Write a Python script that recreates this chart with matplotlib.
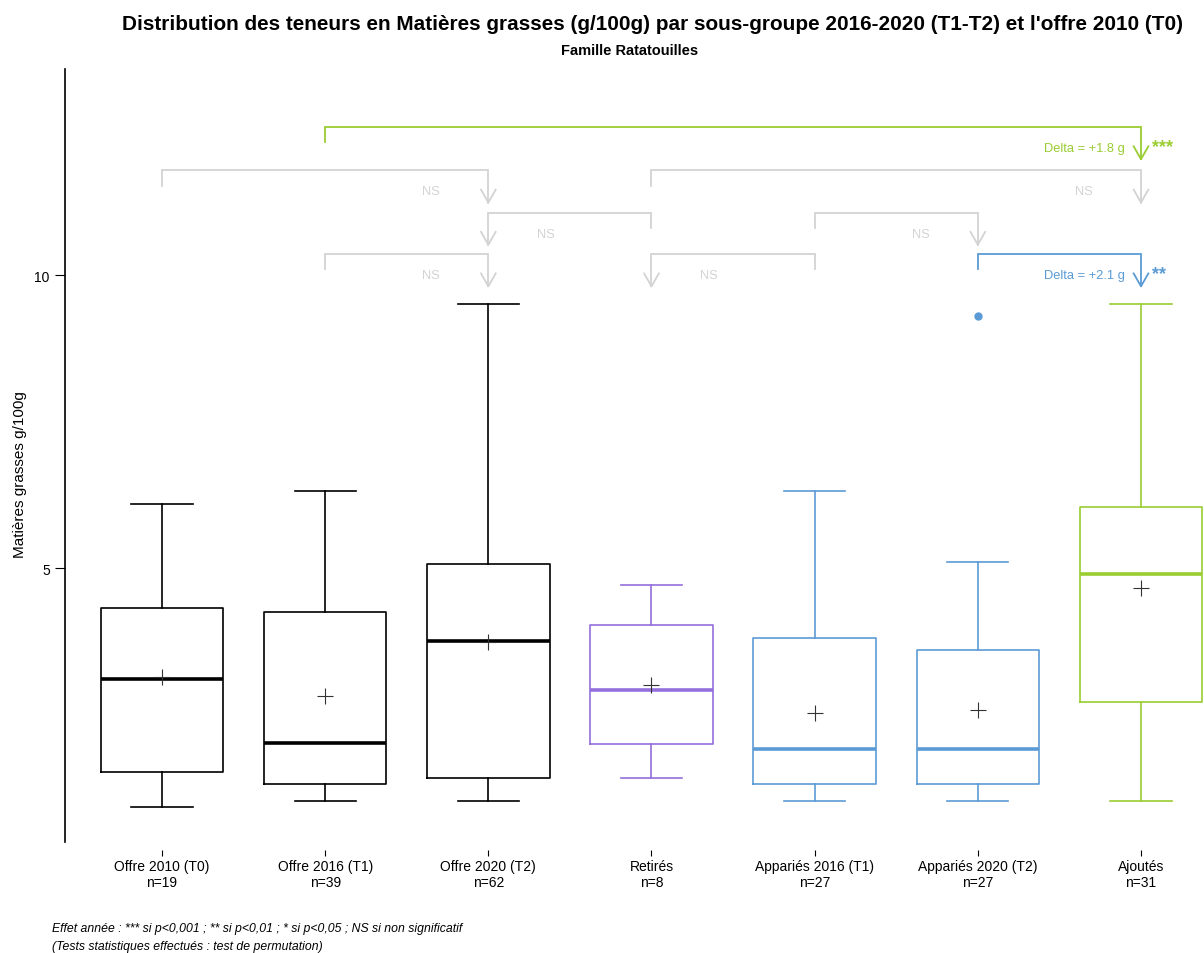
import matplotlib
matplotlib.use("Agg")
import matplotlib.pyplot as plt

# ---- data ----
groups = ["Offre 2010 (T0)", "Offre 2016 (T1)", "Offre 2020 (T2)", "Retirés",
          "Appariés 2016 (T1)", "Appariés 2020 (T2)", "Ajoutés"]
counts = [19, 39, 62, 8, 27, 27, 31]
whis_lo = [0.92, 1.02, 1.02, 1.42, 1.02, 1.02, 1.02]
q1 = [1.52, 1.31, 1.42, 2.00, 1.31, 1.31, 2.71]
medians = [3.11, 2.01, 3.75, 2.92, 1.91, 1.91, 4.90]
means = [3.14, 2.82, 3.74, 3.00, 2.53, 2.58, 4.66]
q3 = [4.32, 4.25, 5.07, 4.03, 3.81, 3.60, 6.04]
whis_hi = [6.10, 6.31, 9.50, 4.71, 6.31, 5.10, 9.50]
outliers = [[], [], [], [], [], [9.30], []]

# comparisons: plain end, arrow end, bracket level, label, stars
comp_from = [2, 1, 4, 4, 5, 2, 5, 6]
comp_arrow = [7, 3, 7, 3, 6, 3, 4, 7]
comp_level = [12.53, 11.79, 11.79, 11.07, 11.07, 10.36, 10.36, 10.36]
comp_label = ["Delta = +1.8 g", "NS", "NS", "NS", "NS", "NS", "NS", "Delta = +2.1 g"]
comp_stars = ["***", "", "", "", "", "", "", "**"]

box_colors = ["black", "black", "black", "#9370DB", "#5B9BD5", "#5B9BD5", "#9ACD32"]
comp_colors = ["#9ACD32", "#D3D3D3", "#D3D3D3", "#D3D3D3", "#D3D3D3", "#D3D3D3", "#D3D3D3", "#5B9BD5"]

plt.rcParams['font.family'] = ['Liberation Sans', 'DejaVu Sans']

fig = plt.figure(figsize=(12.04, 9.54), dpi=100)
ax = fig.add_axes([65 / 1204, 1 - 843 / 954, 1 - 65 / 1204, (843 - 70) / 954])

positions = list(range(1, len(groups) + 1))
for i, pos in enumerate(positions):
    stats = [dict(med=medians[i], q1=q1[i], q3=q3[i], whislo=whis_lo[i],
                  whishi=whis_hi[i], mean=means[i], fliers=outliers[i])]
    c = box_colors[i]
    ax.bxp(stats, positions=[pos], widths=0.75, showmeans=True,
           boxprops=dict(color=c, linewidth=1.2),
           whiskerprops=dict(color=c, linewidth=1.2),
           capprops=dict(color=c, linewidth=1.2),
           medianprops=dict(color=c, linewidth=2.6),
           meanprops=dict(marker='+', markeredgecolor='#333333', markersize=11,
                          markeredgewidth=0.8),
           flierprops=dict(marker='o', markerfacecolor=c, markeredgecolor=c,
                           markersize=5))

# comparison brackets
tick_drop = 0.26
arrow_drop = 0.55
for i in range(len(comp_from)):
    other = comp_from[i]
    arr = comp_arrow[i]
    lvl = comp_level[i]
    c = comp_colors[i]
    ax.plot([other, other, arr, arr], [lvl - tick_drop, lvl, lvl, lvl - arrow_drop],
            color=c, linewidth=1.3, solid_joinstyle='miter', clip_on=False)
    tip = lvl - arrow_drop
    ax.plot([arr - 0.045, arr, arr + 0.045], [tip + 0.22, tip, tip + 0.22],
            color=c, linewidth=1.3, clip_on=False)
    direction = -1 if arr > other else 1
    ty = lvl - 0.36
    if comp_stars[i]:
        ax.text(arr - 0.1, ty, comp_label[i], color=c, fontsize=9.3,
                ha='right', va='center')
        ax.text(arr + 0.065, ty + 0.02, comp_stars[i], color=c, fontsize=13,
                fontweight='bold', ha='left', va='center')
    else:
        ax.text(arr + direction * 0.35, ty, comp_label[i], color=c, fontsize=9.3,
                ha='center', va='center')

ax.set_xlim(1 - 97 / 163.17, 7 + 63 / 163.17)
ax.set_ylim(0.324, 13.52)
ax.set_xticks(positions)
ax.set_xticklabels([f"{g}\nn={n}" for g, n in zip(groups, counts)], fontsize=9.4)
ax.set_yticks([5, 10])
ax.set_yticklabels(["5", "10"], fontsize=10)
ax.tick_params(axis='x', length=4, width=0.8, pad=2)
ax.tick_params(axis='y', length=7, width=0.8, pad=4)
for s in ['top', 'right']:
    ax.spines[s].set_visible(False)
ax.spines['bottom'].set_position(('outward', 6))
ax.spines['bottom'].set_visible(False)
ax.spines['left'].set_linewidth(1.2)
ax.set_ylabel("Matières grasses g/100g", fontsize=11)
ax.yaxis.set_label_coords(-0.033, 0.476)

title = fig.text(653 / 1204, 1 - 24 / 954,
                 "Distribution des teneurs en Matières grasses (g/100g) par sous-groupe "
                 "2016-2020 (T1-T2) et l'offre 2010 (T0)",
                 ha='center', va='center', fontsize=13, fontweight='bold')
fig.canvas.draw()
w = title.get_window_extent().width
title.set_fontsize(13 * 1060 / w)
fig.text(630 / 1204, 1 - 51 / 954, "Famille Ratatouilles", ha='center', va='center',
         fontsize=10.5, fontweight='bold')

fig.text(52 / 1204, 1 - 929 / 954,
         "Effet année : *** si p<0,001 ; ** si p<0,01 ; * si p<0,05 ; NS si non significatif",
         ha='left', va='center', fontsize=8.8, style='italic')
fig.text(52 / 1204, 1 - 947 / 954,
         "(Tests statistiques effectués : test de permutation)",
         ha='left', va='center', fontsize=8.8, style='italic')

fig.savefig("out.png", dpi=100)
